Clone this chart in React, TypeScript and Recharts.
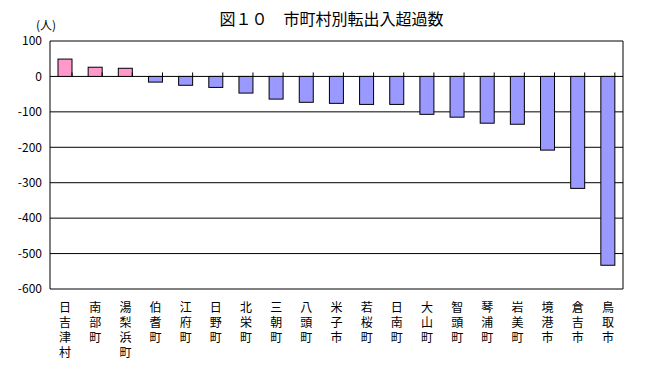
import { BarChart, Bar, Cell, XAxis, YAxis, CartesianGrid } from 'recharts'

const towns = [
  '日吉津村', '南部町', '湯梨浜町', '伯耆町', '江府町', '日野町', '北栄町', '三朝町', '八頭町', '米子市',
  '若桜町', '日南町', '大山町', '智頭町', '琴浦町', '岩美町', '境港市', '倉吉市', '鳥取市',
]
const netMigration = [49, 26, 23, -16, -25, -31, -47, -64, -73, -76, -79, -79, -107, -115, -132, -135, -208, -316, -533]
const yTicks = [100, 0, -100, -200, -300, -400, -500, -600]

const data = towns.map((name, i) => ({ name, value: netMigration[i] }))

// town names are written top-to-bottom
const VerticalTick = ({ x, y, payload }: any) => (
  <text
    x={x}
    y={y + 4}
    fontSize={12}
    fill="#000"
    style={{ writingMode: 'vertical-rl', textOrientation: 'upright', letterSpacing: 3 } as any}
  >
    {payload.value}
  </text>
)

// bar plus the small category-boundary tick standing on the zero line
const BarWithTick = (props: any) => {
  const { x, y, width, height, fill, background, payload } = props
  const top = Math.min(y, y + height)
  const bottom = Math.max(y, y + height)
  const zeroY = payload && payload.value < 0 ? top : bottom
  const edge = background ? background.x + background.width : null
  return (
    <g>
      <rect x={x} y={top} width={width} height={bottom - top} fill={fill} stroke="#000" strokeWidth={1} />
      {edge !== null && <line x1={edge} x2={edge} y1={zeroY - 4} y2={zeroY} stroke="#000" />}
    </g>
  )
}

export default function App() {
  return (
    <div style={{ position: 'absolute', left: 0, top: 0, width: 647, height: 368, background: '#fff', fontFamily: '"Noto Sans CJK JP", sans-serif' }}>
      <div style={{ position: 'absolute', left: 0, width: 647, top: 6, textAlign: 'center', fontSize: 16, paddingLeft: 16, boxSizing: 'border-box' }}>
        図１０　市町村別転出入超過数
      </div>
      <div style={{ position: 'absolute', left: 36, top: 16, fontSize: 12 }}>(人)</div>
      <BarChart
        width={647}
        height={368}
        data={data}
        margin={{ top: 41, right: 23, left: 0, bottom: 0 }}
        barSize={14}
      >
        <CartesianGrid yAxisId="left" horizontal vertical={false} stroke="#000" strokeWidth={1} />
        <XAxis
          dataKey="name"
          interval={0}
          height={79}
          axisLine={false}
          tickLine={false}
          tick={<VerticalTick />}
        />
        <YAxis
          yAxisId="left"
          domain={[-600, 100]}
          ticks={yTicks}
          interval={0}
          width={50}
          axisLine={{ stroke: '#000' }}
          tickLine={false}
          tick={{ fontSize: 12, fill: '#000' }}
        />
        <YAxis
          yAxisId="right"
          orientation="right"
          domain={[-600, 100]}
          ticks={yTicks}
          width={1}
          axisLine={{ stroke: '#000' }}
          tickLine={false}
          tick={false}
        />
        <Bar dataKey="value" yAxisId="left" isAnimationActive={false} shape={(p: any) => <BarWithTick {...p} />}>
          {data.map((d, i) => (
            <Cell key={i} fill={d.value >= 0 ? '#ff99cc' : '#9999ff'} />
          ))}
        </Bar>
      </BarChart>
    </div>
  )
}
